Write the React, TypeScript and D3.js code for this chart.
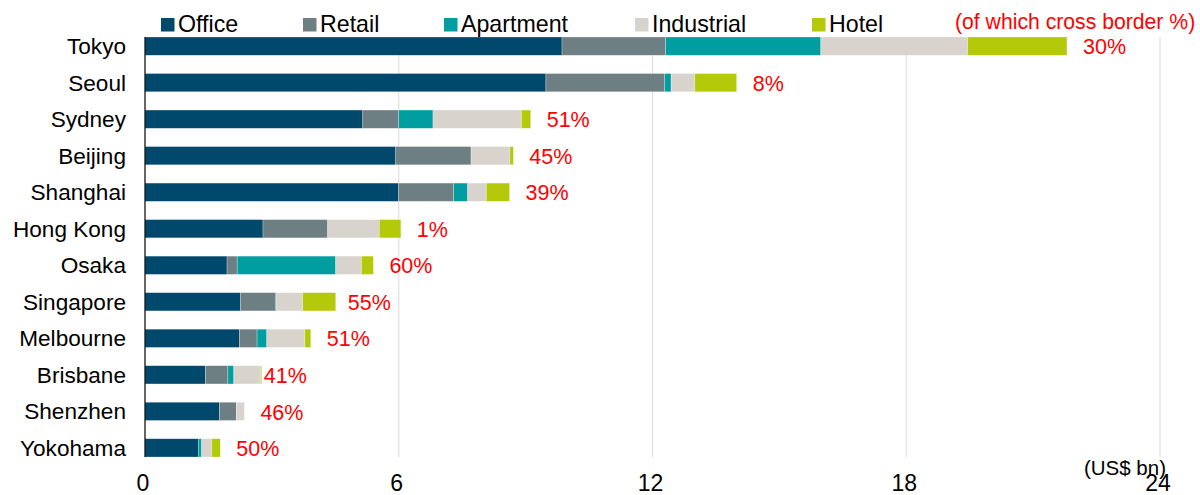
import React from "react";
import * as d3 from "d3";

const categories = ["Tokyo", "Seoul", "Sydney", "Beijing", "Shanghai", "Hong Kong", "Osaka", "Singapore", "Melbourne", "Brisbane", "Shenzhen", "Yokohama"];
const office = [9.86, 9.48, 5.15, 5.93, 5.99, 2.79, 1.94, 2.26, 2.23, 1.43, 1.76, 1.26];
const retail = [2.45, 2.81, 0.85, 1.78, 1.31, 1.53, 0.24, 0.82, 0.42, 0.53, 0.4, 0.0];
const apartment = [3.67, 0.15, 0.81, 0.0, 0.33, 0.0, 2.33, 0.02, 0.23, 0.14, 0.0, 0.08];
const industrial = [3.47, 0.56, 2.09, 0.92, 0.44, 1.22, 0.61, 0.63, 0.9, 0.64, 0.19, 0.24];
const hotel = [2.35, 0.99, 0.22, 0.08, 0.55, 0.51, 0.28, 0.78, 0.14, 0.02, 0.0, 0.2];
const crossBorder = [30, 8, 51, 45, 39, 1, 60, 55, 51, 41, 46, 50];
const seriesNames = ["Office", "Retail", "Apartment", "Industrial", "Hotel"];
const xTicks = [0, 6, 12, 18, 24];

const colors = ["#00486C", "#6E7F83", "#009EA1", "#D8D3CD", "#B3C90A"];
const FONT = "'Liberation Sans', Arial, Helvetica, sans-serif";

export default function App() {
  const W = 1200, H = 495;
  const top = 37, bottom = 457;
  const x = d3.scaleLinear().domain([0, 24]).range([145, 1160]);
  const y = d3.scaleBand<string>().domain(categories).range([top, bottom]).paddingInner(0.5).paddingOuter(0);

  const rows = categories.map((c, i) => ({
    city: c,
    Office: office[i],
    Retail: retail[i],
    Apartment: apartment[i],
    Industrial: industrial[i],
    Hotel: hotel[i],
  }));
  const stacked = d3.stack<any>().keys(seriesNames)(rows);
  const totals = rows.map((r) => seriesNames.reduce((s, k) => s + (r as any)[k], 0));

  const labelNudge: Record<string, number> = { Brisbane: -14, Singapore: -4 };
  const legendX = [161, 303, 444, 635, 812];
  const bw = y.bandwidth();

  return (
    <svg width={W} height={H} style={{ position: "absolute", left: 0, top: 0, display: "block", background: "#fff" }} fontFamily={FONT}>
      {xTicks.filter((t) => t > 0).map((t) => (
        <line key={t} x1={x(t)} x2={x(t)} y1={top} y2={bottom} stroke="#D9D9D9" strokeWidth={1} />
      ))}
      {stacked.map((s, si) => (
        <g key={s.key} fill={colors[si]}>
          {s.map((d, i) => {
            const w = x(d[1]) - x(d[0]);
            if (w <= 0) return null;
            return (
              <rect key={i} x={x(d[0])} y={y(categories[i])!} width={w} height={bw}
                stroke="#ffffff" strokeWidth={0.6} strokeOpacity={0.45} />
            );
          })}
        </g>
      ))}
      <line x1={x(0)} x2={x(0)} y1={top} y2={bottom} stroke="#000" strokeWidth={1.2} />
      {categories.map((c) => (
        <text key={c} x={126} y={y(c)! + bw / 2} dy="0.36em" textAnchor="end" fontSize={22.6} fill="#000">{c}</text>
      ))}
      {categories.map((c, i) => (
        <text key={c} x={x(totals[i]) + 16 + (labelNudge[c] || 0)} y={y(c)! + bw / 2} dy="0.38em" fontSize={21.5} fill="#FF0000">
          {crossBorder[i]}%
        </text>
      ))}
      {xTicks.map((t) => (
        <text key={t} x={x(t) - 2} y={491} textAnchor="middle" fontSize={23} fill="#000">{t}</text>
      ))}
      <text x={1166} y={475} textAnchor="end" fontSize={20.5} fill="#000">(US$ bn)</text>
      {seriesNames.map((n, i) => (
        <g key={n}>
          <rect x={legendX[i]} y={18} width={13.5} height={13.5} fill={colors[i]} />
          <text x={legendX[i] + 17} y={32} fontSize={23.2} fill="#000">{n}</text>
        </g>
      ))}
      <text x={955} y={29} fontSize={21.2} fill="#FF0000">(of which cross border %)</text>
    </svg>
  );
}
